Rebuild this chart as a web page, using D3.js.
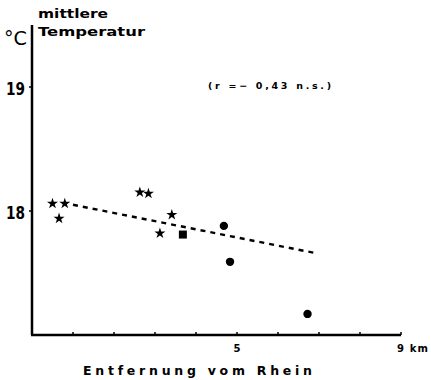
<!DOCTYPE html>
<html>
<head>
<meta charset="utf-8">
<script src="https://cdn.jsdelivr.net/npm/d3@7"></script>
<style>
  body { margin: 0; background: #fff; }
  text { font-family: "DejaVu Sans", sans-serif; fill: #000; }
</style>
</head>
<body>
<svg id="chart" width="431" height="380"></svg>
<script>
// stations: distance from Rhine (km) and mean temperature (°C)
const starDist = [0.5, 0.8, 0.66, 2.63, 2.84, 3.41, 3.12];
const starTemp = [18.06, 18.06, 17.94, 18.15, 18.14, 17.97, 17.82];
const squareDist = [3.68];
const squareTemp = [17.81];
const circleDist = [4.68, 4.83, 6.72];
const circleTemp = [17.88, 17.59, 17.17];
const trendDist = [1.0, 6.92];
const trendTemp = [18.05, 17.66];
const yTicks = [18, 19];
const xMinor = [1, 2, 3, 4, 5, 6, 7, 8, 9];

const svg = d3.select("#chart");

const x = d3.scaleLinear().domain([0, 9]).range([32, 401]);
const y = d3.scaleLinear().domain([17, 19]).range([335, 87]);

// trend line
const line = d3.line().x(d => x(d[0])).y(d => y(d[1]));
svg.append("path")
  .attr("d", line(d3.zip(trendDist, trendTemp)))
  .attr("fill", "none")
  .attr("stroke", "#000")
  .attr("stroke-width", 2.4)
  .attr("stroke-dasharray", "5,5");

// axes
svg.append("line")
  .attr("x1", x(0)).attr("x2", x(0))
  .attr("y1", y(19.5)).attr("y2", y(17))
  .attr("stroke", "#000").attr("stroke-width", 2.5);
svg.append("line")
  .attr("x1", x(0) - 1).attr("x2", x(9))
  .attr("y1", y(17)).attr("y2", y(17))
  .attr("stroke", "#000").attr("stroke-width", 2.5);

svg.selectAll(".xtick").data(xMinor).enter().append("line")
  .attr("x1", d => x(d)).attr("x2", d => x(d))
  .attr("y1", y(17)).attr("y2", y(17) - 3)
  .attr("stroke", "#000").attr("stroke-width", 1.5);

svg.selectAll(".ytick").data(yTicks).enter().append("line")
  .attr("x1", x(0) - 3).attr("x2", x(0))
  .attr("y1", d => y(d)).attr("y2", d => y(d))
  .attr("stroke", "#000").attr("stroke-width", 1.5);

svg.selectAll(".ylab").data(yTicks).enter().append("text")
  .attr("x", 6).attr("y", d => y(d) + 8)
  .attr("font-size", 18).attr("font-weight", "bold")
  .attr("textLength", 19).attr("lengthAdjust", "spacingAndGlyphs")
  .text(d => d);

// markers
const star = d3.symbol().type(d3.symbolStar).size(38);
svg.selectAll(".star").data(d3.zip(starDist, starTemp)).enter().append("path")
  .attr("d", star)
  .attr("transform", d => `translate(${x(d[0])},${y(d[1])})`)
  .attr("fill", "#000");

svg.selectAll(".sq").data(d3.zip(squareDist, squareTemp)).enter().append("rect")
  .attr("x", d => x(d[0]) - 4).attr("y", d => y(d[1]) - 4)
  .attr("width", 8).attr("height", 8)
  .attr("fill", "#000");

svg.selectAll(".dot").data(d3.zip(circleDist, circleTemp)).enter().append("circle")
  .attr("cx", d => x(d[0])).attr("cy", d => y(d[1]))
  .attr("r", 4.2)
  .attr("fill", "#000");

// texts
svg.append("text").attr("x", 4).attr("y", 45).attr("font-size", 19)
  .attr("textLength", 23).attr("lengthAdjust", "spacingAndGlyphs").text("°C");
svg.append("text").attr("x", 38).attr("y", 18).attr("font-size", 12)
  .attr("font-weight", "bold").attr("textLength", 70).attr("lengthAdjust", "spacingAndGlyphs")
  .text("mittlere");
svg.append("text").attr("x", 38).attr("y", 36).attr("font-size", 12)
  .attr("font-weight", "bold").attr("textLength", 107).attr("lengthAdjust", "spacingAndGlyphs")
  .text("Temperatur");
svg.append("text").attr("x", 208).attr("y", 89).attr("font-size", 9.5)
  .attr("font-weight", "bold").attr("textLength", 123).attr("lengthAdjust", "spacing")
  .text("(r =− 0,43 n.s.)");
svg.append("text").attr("x", x(5)).attr("y", 352).attr("font-size", 10)
  .attr("font-weight", "bold").attr("text-anchor", "middle").text("5");
svg.append("text").attr("x", 397).attr("y", 352).attr("font-size", 10)
  .attr("font-weight", "bold").attr("textLength", 31).attr("lengthAdjust", "spacing")
  .text("9 km");
svg.append("text").attr("x", 83).attr("y", 375).attr("font-size", 12.5)
  .attr("font-weight", "bold").attr("textLength", 229).attr("lengthAdjust", "spacing")
  .text("Entfernung vom Rhein");
</script>
</body>
</html>
